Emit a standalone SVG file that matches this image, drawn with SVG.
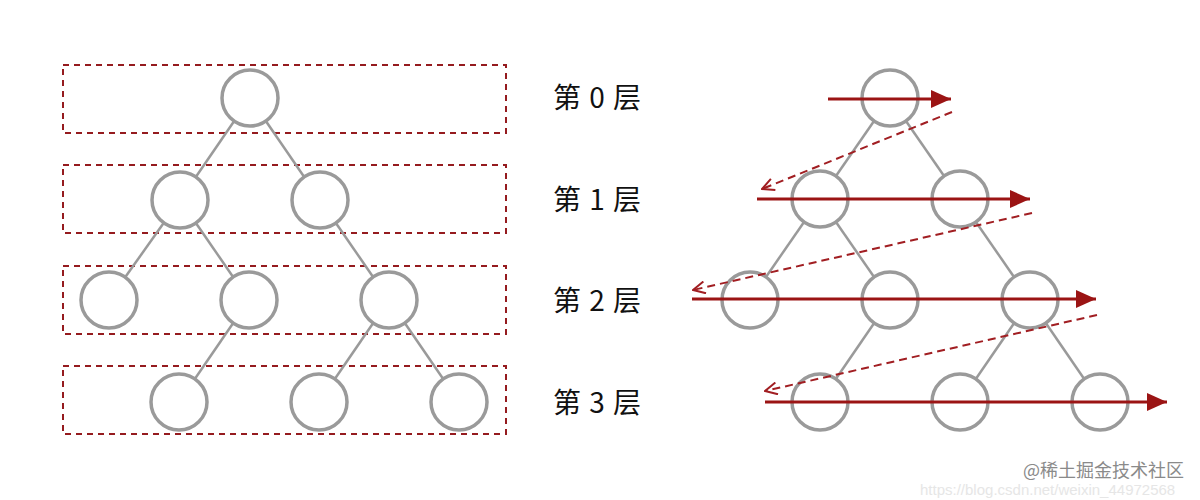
<svg xmlns="http://www.w3.org/2000/svg" width="1200" height="500" viewBox="0 0 1200 500">
<style>
.box{fill:none;stroke:#951b1f;stroke-width:2;stroke-dasharray:6 5}
.edge{stroke:#9a9a9a;stroke-width:2.5;fill:none}
.node circle{fill:#fff;stroke:#9a9a9a;stroke-width:3.5}
.lbl{font-family:"Noto Sans CJK SC","Noto Sans",sans-serif;font-size:28px;fill:#111;word-spacing:2px}
.trav{stroke:#9b1414;stroke-width:3;fill:none}
.back{stroke:#a11e22;stroke-width:2;stroke-dasharray:8 5;fill:none}
</style>
<defs>
<marker id="solid" viewBox="0 0 20 18" refX="20" refY="9" markerWidth="20" markerHeight="18" markerUnits="userSpaceOnUse" orient="auto">
<path d="M0,0 L20,9 L0,18 z" fill="#9b1414"/>
</marker>
<marker id="open" viewBox="0 0 14 14" refX="13" refY="7" markerWidth="14" markerHeight="14" markerUnits="userSpaceOnUse" orient="auto">
<path d="M1,1 L13,7 L1,13" fill="none" stroke="#a11e22" stroke-width="2"/>
</marker>
</defs>
<rect width="1200" height="500" fill="#fff"/>
<g id="levels">
<rect class="box" x="63" y="65" width="443" height="68"/>
<rect class="box" x="63" y="165" width="443" height="68"/>
<rect class="box" x="63" y="266" width="443" height="68"/>
<rect class="box" x="63" y="366" width="443" height="68"/>
</g>
<g id="connectors">
<line class="edge" x1="250" y1="98" x2="180" y2="200"/>
<line class="edge" x1="250" y1="98" x2="320" y2="200"/>
<line class="edge" x1="180" y1="200" x2="109" y2="300"/>
<line class="edge" x1="180" y1="200" x2="249" y2="300"/>
<line class="edge" x1="320" y1="200" x2="389" y2="300"/>
<line class="edge" x1="249" y1="300" x2="179" y2="402"/>
<line class="edge" x1="389" y1="300" x2="319" y2="402"/>
<line class="edge" x1="389" y1="300" x2="459" y2="402"/>
<line class="edge" x1="890" y1="98" x2="820" y2="199"/>
<line class="edge" x1="890" y1="98" x2="960" y2="199"/>
<line class="edge" x1="820" y1="199" x2="750" y2="300"/>
<line class="edge" x1="820" y1="199" x2="890" y2="300"/>
<line class="edge" x1="960" y1="199" x2="1030" y2="300"/>
<line class="edge" x1="890" y1="300" x2="820" y2="402"/>
<line class="edge" x1="1030" y1="300" x2="960" y2="402"/>
<line class="edge" x1="1030" y1="300" x2="1100" y2="402"/>
</g>
<g id="left-n0" class="node"><circle cx="250" cy="98" r="28"/></g>
<g id="left-n1" class="node"><circle cx="180" cy="200" r="28"/></g>
<g id="left-n2" class="node"><circle cx="320" cy="200" r="28"/></g>
<g id="left-n3" class="node"><circle cx="109" cy="300" r="28"/></g>
<g id="left-n4" class="node"><circle cx="249" cy="300" r="28"/></g>
<g id="left-n5" class="node"><circle cx="389" cy="300" r="28"/></g>
<g id="left-n6" class="node"><circle cx="179" cy="402" r="28"/></g>
<g id="left-n7" class="node"><circle cx="319" cy="402" r="28"/></g>
<g id="left-n8" class="node"><circle cx="459" cy="402" r="28"/></g>
<g id="right-n0" class="node"><circle cx="890" cy="98" r="28"/></g>
<g id="right-n1" class="node"><circle cx="820" cy="199" r="28"/></g>
<g id="right-n2" class="node"><circle cx="960" cy="199" r="28"/></g>
<g id="right-n3" class="node"><circle cx="750" cy="300" r="28"/></g>
<g id="right-n4" class="node"><circle cx="890" cy="300" r="28"/></g>
<g id="right-n5" class="node"><circle cx="1030" cy="300" r="28"/></g>
<g id="right-n6" class="node"><circle cx="820" cy="402" r="28"/></g>
<g id="right-n7" class="node"><circle cx="960" cy="402" r="28"/></g>
<g id="right-n8" class="node"><circle cx="1100" cy="402" r="28"/></g>
<g id="labels">
<text class="lbl" x="553" y="108">第 0 层</text>
<text class="lbl" x="553" y="210">第 1 层</text>
<text class="lbl" x="553" y="311">第 2 层</text>
<text class="lbl" x="553" y="413">第 3 层</text>
</g>
<g id="traversal">
<line class="trav" x1="828" y1="99" x2="951" y2="99" marker-end="url(#solid)"/>
<line class="back" x1="952" y1="112" x2="762" y2="189" marker-end="url(#open)"/>
<line class="trav" x1="757" y1="199" x2="1030" y2="199" marker-end="url(#solid)"/>
<line class="back" x1="1032" y1="213" x2="693" y2="290" marker-end="url(#open)"/>
<line class="trav" x1="692" y1="299" x2="1096" y2="299" marker-end="url(#solid)"/>
<line class="back" x1="1097" y1="315" x2="765" y2="391" marker-end="url(#open)"/>
<line class="trav" x1="765" y1="402" x2="1167" y2="402" marker-end="url(#solid)"/>
</g>
<g id="watermark">
<text x="920" y="495" font-family="Liberation Sans, Arial, sans-serif" font-size="15" fill="#e6e6e6">https://blog.csdn.net/weixin_44972568</text>
<text x="1023" y="477" font-family="'Noto Sans CJK SC', sans-serif" font-size="18" fill="#8a8a8a" stroke="#fff" stroke-width="0.6" paint-order="stroke">@稀土掘金技术社区</text>
</g>
</svg>
